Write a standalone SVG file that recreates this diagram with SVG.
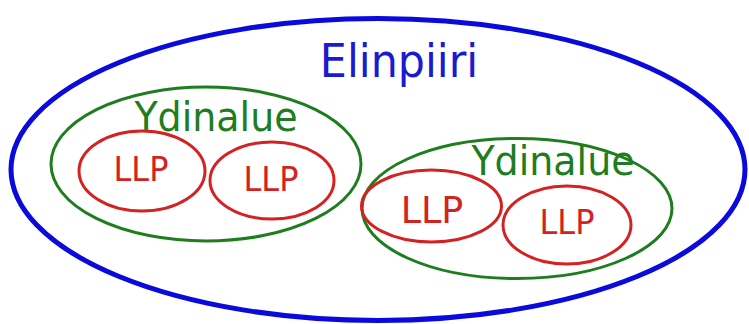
<svg xmlns="http://www.w3.org/2000/svg" width="749" height="324" viewBox="0 0 749 324">
<style>
.outer{fill:none;stroke:#0a0adc;stroke-width:5}
.core{fill:none;stroke:#1e7d1e;stroke-width:3}
.llp{fill:none;stroke:#d42222;stroke-width:3}
text{font-family:"DejaVu Sans","Liberation Sans",sans-serif;text-anchor:middle}
.t1{fill:#1a1ad0;font-size:46px}
.t2{fill:#1e7d1e;font-size:40px}
.t3{fill:#d42222;font-size:34px}
</style>
<rect width="749" height="324" fill="#ffffff"/>
<g id="elinpiiri">
<ellipse class="outer" cx="378" cy="169.5" rx="367" ry="151"/>
<text class="t1" transform="translate(399 77) scale(0.93 1)">Elinpiiri</text>
</g>
<g id="ydinalue1">
<ellipse class="core" cx="206" cy="164" rx="155" ry="77"/>
<text class="t2" transform="translate(216 131) scale(0.95 1)">Ydinalue</text>
</g>
<g id="llp1">
<ellipse class="llp" cx="142" cy="171" rx="63" ry="40"/>
<text class="t3" transform="translate(141 181) scale(0.94 1)">LLP</text>
</g>
<g id="llp2">
<ellipse class="llp" cx="272" cy="180.5" rx="62" ry="38.5"/>
<text class="t3" transform="translate(271 191) scale(0.94 1)">LLP</text>
</g>
<g id="ydinalue2">
<ellipse class="core" cx="517" cy="208.5" rx="155" ry="70"/>
<text class="t2" transform="translate(553 175) scale(0.95 1)">Ydinalue</text>
</g>
<g id="llp3">
<ellipse class="llp" cx="431.5" cy="206" rx="70" ry="36"/>
<text class="t3" transform="translate(432 223) scale(0.96 1)" style="font-size:38px">LLP</text>
</g>
<g id="llp4">
<ellipse class="llp" cx="567" cy="225" rx="64" ry="39"/>
<text class="t3" transform="translate(567 234) scale(0.94 1)">LLP</text>
</g>
<g id="connectors"/>
</svg>
